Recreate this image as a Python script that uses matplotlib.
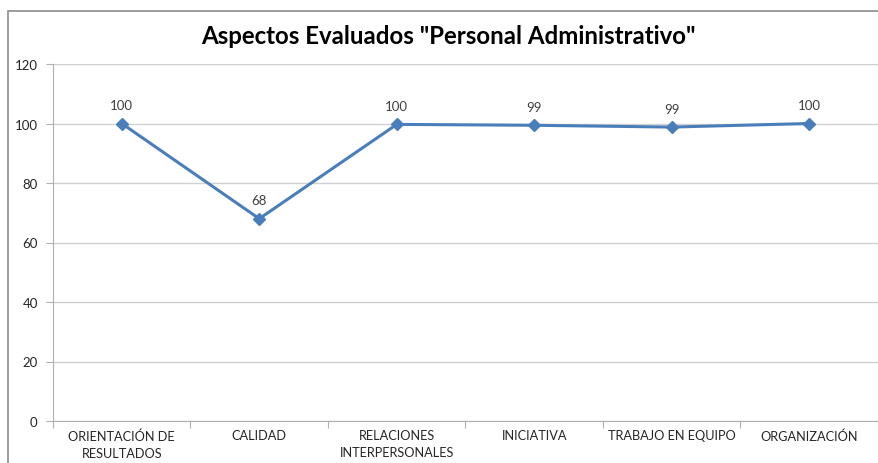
import matplotlib.pyplot as plt
from matplotlib.patches import Rectangle

categorias = ["ORIENTACIÓN DE\nRESULTADOS", "CALIDAD", "RELACIONES\nINTERPERSONALES",
              "INICIATIVA", "TRABAJO EN EQUIPO", "ORGANIZACIÓN"]
valores = [100, 68, 99.7, 99.4, 98.8, 100]
etiquetas = ["100", "68", "100", "99", "99", "100"]
y_ticks = [0, 20, 40, 60, 80, 100, 120]

plt.rcParams['font.family'] = ['Lato', 'DejaVu Sans']

fig = plt.figure(figsize=(8.79, 4.64), dpi=100)
fig.patches.append(Rectangle((8 / 879, -0.05), 1.2, 1 - 12 / 464 + 0.05, transform=fig.transFigure,
                             fill=False, edgecolor="#8c8c8c", linewidth=1.2))
ax = fig.add_axes([53 / 879, 1 - 422 / 464, 825 / 879, (422 - 65) / 464])

x = list(range(len(categorias)))
ax.plot(x, valores, color="#4A7EBB", linewidth=2.2, marker="D", markersize=6.5, zorder=3)
for xi, v, t in zip(x, valores, etiquetas):
    ax.annotate(t, (xi, v), xytext=(0, 9), textcoords="offset points", ha="center",
                va="bottom", fontsize=9.5, color="#404040")

ax.set_xlim(-0.5, len(categorias) - 0.5)
ax.set_ylim(0, 120)
ax.set_yticks(y_ticks)
ax.grid(axis="y", color="#d0d0d0", linewidth=1)
ax.set_axisbelow(True)

ax.set_xticks([i - 0.5 for i in range(len(categorias) + 1)])
ax.set_xticklabels([])
ax.set_xticks(x, minor=True)
ax.set_xticklabels(categorias, minor=True, fontsize=9.2, color="#262626", linespacing=1.5)
ax.tick_params(axis="x", which="minor", length=0, pad=6)
ax.tick_params(axis="x", which="major", length=5, color="#b0b0b0")
ax.tick_params(axis="y", length=5, color="#b0b0b0", labelsize=9.5, labelcolor="#262626", pad=6)

for s in ["top", "right"]:
    ax.spines[s].set_visible(False)
for s in ["left", "bottom"]:
    ax.spines[s].set_color("#b0b0b0")

fig.text(0.5 + 9 / 879, 1 - 37 / 464, 'Aspectos Evaluados "Personal Administrativo"', ha="center",
         va="center", fontsize=17.3, fontweight="bold", color="#000000")

fig.savefig("out.png", dpi=100)
